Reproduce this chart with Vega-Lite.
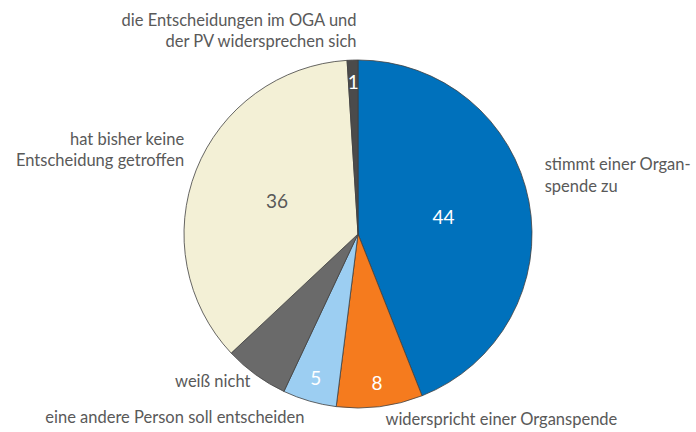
{
  "$schema": "https://vega.github.io/schema/vega-lite/v6.json",
  "width": 676,
  "height": 396,
  "autosize": "none",
  "padding": {"left": 20, "top": 36, "right": 0, "bottom": 0},
  "background": "white",
  "config": {"view": {"stroke": null}, "text": {"font": "Lato"}},
  "data": {"values": [
    {"i": 1, "label": "stimmt einer Organ-\nspende zu", "value": 44},
    {"i": 2, "label": "widerspricht einer Organspende", "value": 8},
    {"i": 3, "label": "eine andere Person soll entscheiden", "value": 5},
    {"i": 4, "label": "weiß nicht", "value": 6},
    {"i": 5, "label": "hat bisher keine\nEntscheidung getroffen", "value": 36},
    {"i": 6, "label": "die Entscheidungen im OGA und\nder PV widersprechen sich", "value": 1}
  ]},
  "encoding": {
    "theta": {"field": "value", "type": "quantitative", "stack": true},
    "order": {"field": "i", "type": "quantitative"}
  },
  "layer": [
    {
      "mark": {"type": "arc", "outerRadius": 174, "stroke": "#404040", "strokeWidth": 0.8},
      "encoding": {
        "color": {"field": "i", "type": "nominal", "legend": null,
          "scale": {"domain": [1, 2, 3, 4, 5, 6], "range": ["#0071BC", "#F57B1E", "#9CCEF2", "#6A6A6A", "#F3F0D6", "#4B4B4B"]}}
      }
    },
    {
      "mark": {"type": "text", "radius": 87, "fontSize": 19, "baseline": "middle", "align": "center"},
      "encoding": {
        "text": {"condition": {"test": "datum.i === 1 || datum.i === 5", "field": "value", "type": "quantitative"}, "value": ""},
        "color": {"condition": {"test": "datum.i === 5", "value": "#595959"}, "value": "#FFFFFF"}
      }
    },
    {
      "mark": {"type": "text", "radius": 151, "fontSize": 19, "baseline": "middle", "align": "center", "color": "#FFFFFF"},
      "encoding": {
        "text": {"condition": {"test": "datum.i === 2 || datum.i === 3 || datum.i === 6", "field": "value", "type": "quantitative"}, "value": ""}
      }
    },
    {
      "mark": {"type": "text", "radius": 190, "dy": -33, "fontSize": 16.5, "baseline": "middle", "align": "left", "color": "#595959", "lineBreak": "\n", "lineHeight": 21.5},
      "encoding": {"text": {"condition": {"test": "datum.i === 1", "field": "label"}, "value": ""}}
    },
    {
      "mark": {"type": "text", "radius": 187, "dx": 4, "fontSize": 16.5, "baseline": "middle", "align": "left", "color": "#595959"},
      "encoding": {"text": {"condition": {"test": "datum.i === 2", "field": "label"}, "value": ""}}
    },
    {
      "mark": {"type": "text", "radius": 192, "fontSize": 16.5, "baseline": "middle", "align": "right", "color": "#595959"},
      "encoding": {"text": {"condition": {"test": "datum.i === 3", "field": "label"}, "value": ""}}
    },
    {
      "mark": {"type": "text", "radius": 183, "fontSize": 16.5, "baseline": "middle", "align": "right", "color": "#595959"},
      "encoding": {"text": {"condition": {"test": "datum.i === 4", "field": "label"}, "value": ""}}
    },
    {
      "mark": {"type": "text", "radius": 187, "dy": -25, "fontSize": 16.5, "baseline": "middle", "align": "right", "color": "#595959", "lineBreak": "\n", "lineHeight": 21},
      "encoding": {"text": {"condition": {"test": "datum.i === 5", "field": "label"}, "value": ""}}
    },
    {
      "mark": {"type": "text", "radius": 205, "dx": 5, "dy": -8, "fontSize": 16.5, "baseline": "middle", "align": "right", "color": "#595959", "lineBreak": "\n", "lineHeight": 21},
      "encoding": {"text": {"condition": {"test": "datum.i === 6", "field": "label"}, "value": ""}}
    }
  ]
}
